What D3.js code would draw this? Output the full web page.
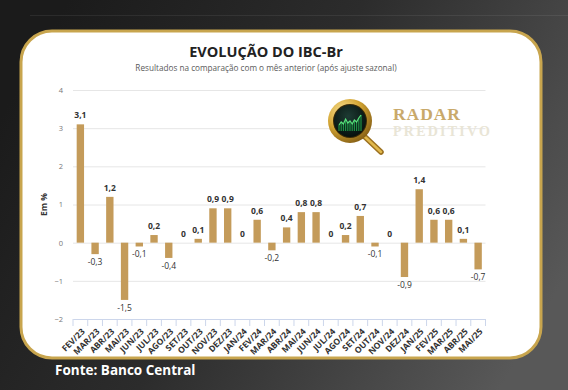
<!DOCTYPE html>
<html>
<head>
<meta charset="utf-8">
<script src="https://cdn.jsdelivr.net/npm/d3@7"></script>
<style>
	html, body { margin: 0; padding: 0; background: #1d1d1d; }
	svg { display: block; font-family: "Open Sans", "Noto Sans", sans-serif; }
</style>
</head>
<body>
<svg id="chart" width="568" height="390"></svg>
<script>
'use strict';

// chart data
var months = [
	'FEV/23', 'MAR/23', 'ABR/23', 'MAI/23', 'JUN/23', 'JUL/23', 'AGO/23',
	'SET/23', 'OUT/23', 'NOV/23', 'DEZ/23', 'JAN/24', 'FEV/24', 'MAR/24',
	'ABR/24', 'MAI/24', 'JUN/24', 'JUL/24', 'AGO/24', 'SET/24', 'OUT/24',
	'NOV/24', 'DEZ/24', 'JAN/25', 'FEV/25', 'MAR/25', 'ABR/25', 'MAI/25'
];
var values = [
	3.1, -0.3, 1.2, -1.5, -0.1, 0.2, -0.4,
	0, 0.1, 0.9, 0.9, 0, 0.6, -0.2,
	0.4, 0.8, 0.8, 0, 0.2, 0.7, -0.1,
	0, -0.9, 1.4, 0.6, 0.6, 0.1, -0.7
];
var yTicks = [-2, -1, 0, 1, 2, 3, 4];

var title = 'EVOLUÇÃO DO IBC-Br';
var subtitle = 'Resultados na comparação com o mês anterior (após ajuste sazonal)';
var yTitle = 'Em %';
var source = 'Fonte: Banco Central';

var svg = d3.select('#chart');
var W = 568, H = 390;
var gold = '#c8a54e';
var barColor = '#c49b5a';

var fmt = function(v) {
	return String(v).replace('.', ',');
};

/* ---------- background ---------- */
var defs = svg.append('defs');

var bg = defs.append('linearGradient')
	.attr('id', 'bg')
	.attr('x1', 0).attr('y1', 0.3)
	.attr('x2', 1).attr('y2', 0.7);
bg.append('stop').attr('offset', 0).attr('stop-color', '#1b1b1b');
bg.append('stop').attr('offset', 0.45).attr('stop-color', '#2c2c2c');
bg.append('stop').attr('offset', 1).attr('stop-color', '#585858');

svg.append('rect')
	.attr('width', W).attr('height', H)
	.attr('fill', 'url(#bg)');

svg.append('line')
	.attr('x1', 30).attr('x2', W)
	.attr('y1', 15.5).attr('y2', 15.5)
	.attr('stroke', 'rgba(255,255,255,0.07)');

/* ---------- card ---------- */
svg.append('rect')
	.attr('x', 21).attr('y', 31)
	.attr('width', 520).attr('height', 327)
	.attr('rx', 31).attr('ry', 31)
	.attr('fill', '#fff')
	.attr('stroke', gold)
	.attr('stroke-width', 3);

/* ---------- titles ---------- */
svg.append('text')
	.attr('x', 266).attr('y', 57)
	.attr('text-anchor', 'middle')
	.attr('font-size', 14.5)
	.attr('font-weight', 700)
	.attr('fill', '#222')
	.text(title);

svg.append('text')
	.attr('x', 266).attr('y', 71)
	.attr('text-anchor', 'middle')
	.attr('font-size', 8.2)
	.attr('fill', '#5a5a5a')
	.text(subtitle);

/* ---------- scales ---------- */
var plot = { left: 73, right: 485.5, top: 90, bottom: 319 };

var x = d3.scaleBand()
	.domain(months)
	.range([plot.left, plot.right])
	.paddingInner(0.5)
	.paddingOuter(0.25);

var y = d3.scaleLinear()
	.domain([d3.min(yTicks), d3.max(yTicks)])
	.range([plot.bottom, plot.top]);

/* ---------- y grid ---------- */
var yAxis = svg.append('g')
	.attr('transform', 'translate(' + plot.left + ',0)')
	.call(d3.axisLeft(y)
		.tickValues(yTicks)
		.tickSize(-(plot.right - plot.left))
		.tickPadding(10)
		.tickFormat(d3.format('d')));

yAxis.select('.domain').remove();
yAxis.selectAll('.tick line')
	.attr('stroke', '#e6e6e6')
	.attr('stroke-width', 1);
yAxis.selectAll('.tick text')
	.attr('font-size', 7.5)
	.attr('font-family', '"Open Sans", sans-serif')
	.attr('fill', '#777');

svg.append('text')
	.attr('transform', 'translate(47,' + (plot.top + plot.bottom) / 2 + ') rotate(-90)')
	.attr('text-anchor', 'middle')
	.attr('font-size', 8.5)
	.attr('font-weight', 700)
	.attr('fill', '#333')
	.text(yTitle);

/* ---------- x axis ---------- */
var xAxis = svg.append('g')
	.attr('transform', 'translate(0,' + plot.bottom + ')')
	.call(d3.axisBottom(x).tickSize(0).tickPadding(0));

xAxis.select('.domain')
	.attr('stroke', '#ccd6eb');

xAxis.selectAll('.tick text')
	.attr('y', 0)
	.attr('dy', '0.35em')
	.attr('font-size', 8.5)
	.attr('font-weight', 700)
	.attr('font-family', '"Open Sans", sans-serif')
	.attr('fill', '#333')
	.attr('text-anchor', 'end')
	.attr('transform', 'translate(3,11) rotate(-45)');

// tick marks between categories
var bounds = d3.range(months.length + 1).map(function(i) {
	return i === months.length
		? x(months[i - 1]) + x.bandwidth() + x.step() * x.paddingInner() / 2
		: x(months[i]) - x.step() * x.paddingInner() / 2;
});
bounds[0] = plot.left;

xAxis.selectAll('line.bound')
	.data(bounds)
	.enter()
	.append('line')
	.attr('class', 'bound')
	.attr('x1', function(d) { return d; })
	.attr('x2', function(d) { return d; })
	.attr('y1', 0)
	.attr('y2', 7)
	.attr('stroke', '#ccd6eb');

/* ---------- bars ---------- */
var series = months.map(function(m, i) {
	return { month: m, value: values[i] };
});

svg.append('g')
	.selectAll('rect')
	.data(series)
	.enter()
	.append('rect')
	.attr('x', function(d) { return x(d.month); })
	.attr('y', function(d) { return y(Math.max(0, d.value)); })
	.attr('width', x.bandwidth())
	.attr('height', function(d) { return Math.abs(y(d.value) - y(0)); })
	.attr('fill', barColor);

svg.append('g')
	.selectAll('text')
	.data(series)
	.enter()
	.append('text')
	.attr('x', function(d) { return x(d.month) + x.bandwidth() / 2; })
	.attr('y', function(d) {
		return d.value < 0 ? y(d.value) + 11 : y(d.value) - 6;
	})
	.attr('text-anchor', 'middle')
	.attr('font-size', 8.5)
	.attr('font-weight', function(d) { return d.value < 0 ? 500 : 700; })
	.attr('fill', '#333')
	.text(function(d) { return fmt(d.value); });

/* ---------- logo ---------- */
var ring = defs.append('radialGradient')
	.attr('id', 'ring')
	.attr('cx', 0.35).attr('cy', 0.3).attr('r', 0.8);
ring.append('stop').attr('offset', 0).attr('stop-color', '#fbe59a');
ring.append('stop').attr('offset', 0.5).attr('stop-color', '#d4a634');
ring.append('stop').attr('offset', 1).attr('stop-color', '#7a5410');

var lens = defs.append('radialGradient')
	.attr('id', 'lens')
	.attr('cx', 0.45).attr('cy', 0.35).attr('r', 0.7);
lens.append('stop').attr('offset', 0).attr('stop-color', '#1d3b33');
lens.append('stop').attr('offset', 1).attr('stop-color', '#050d0b');

var logo = svg.append('g').attr('transform', 'translate(350,121)');

logo.append('line')
	.attr('x1', 14).attr('y1', 15)
	.attr('x2', 31).attr('y2', 31)
	.attr('stroke', '#9b7020')
	.attr('stroke-width', 5.5)
	.attr('stroke-linecap', 'round');
logo.append('line')
	.attr('x1', 14).attr('y1', 15)
	.attr('x2', 31).attr('y2', 31)
	.attr('stroke', '#e2b94c')
	.attr('stroke-width', 2.5)
	.attr('stroke-linecap', 'round');

logo.append('circle').attr('r', 22).attr('fill', 'url(#ring)');
logo.append('circle').attr('r', 17).attr('fill', '#3a2a08');
logo.append('circle').attr('r', 16).attr('fill', 'url(#lens)');

var spark = [4, 1, 3, -2, 2, 0, 3, -1, 1, -3, -6];
var sx = d3.scaleLinear().domain([0, spark.length - 1]).range([-11, 11]);
logo.append('g')
	.selectAll('line')
	.data(spark)
	.enter()
	.append('line')
	.attr('x1', function(d, i) { return sx(i); })
	.attr('x2', function(d, i) { return sx(i); })
	.attr('y1', function(d) { return d; })
	.attr('y2', 10)
	.attr('stroke', '#1f9a48')
	.attr('stroke-width', 1.1);
logo.append('path')
	.attr('d', d3.line()
		.x(function(d, i) { return sx(i); })
		.y(function(d) { return d; })(spark))
	.attr('fill', 'none')
	.attr('stroke', '#59e07c')
	.attr('stroke-width', 1.2);

svg.append('text')
	.attr('x', 393).attr('y', 119.5)
	.attr('font-family', '"Liberation Serif", "DejaVu Serif", serif')
	.attr('font-size', 17.5)
	.attr('font-weight', 700)
	.attr('fill', '#c9a96a')
	.attr('textLength', 67)
	.attr('lengthAdjust', 'spacing')
	.text('RADAR');

svg.append('text')
	.attr('x', 393).attr('y', 136)
	.attr('font-family', '"Liberation Serif", "DejaVu Serif", serif')
	.attr('font-size', 14)
	.attr('font-weight', 700)
	.attr('fill', '#e9e5d6')
	.attr('textLength', 97)
	.attr('lengthAdjust', 'spacing')
	.text('PREDITIVO');

/* ---------- source ---------- */
svg.append('text')
	.attr('x', 55).attr('y', 375)
	.attr('font-size', 13.5)
	.attr('font-weight', 700)
	.attr('fill', '#fff')
	.text(source);
</script>
</body>
</html>
